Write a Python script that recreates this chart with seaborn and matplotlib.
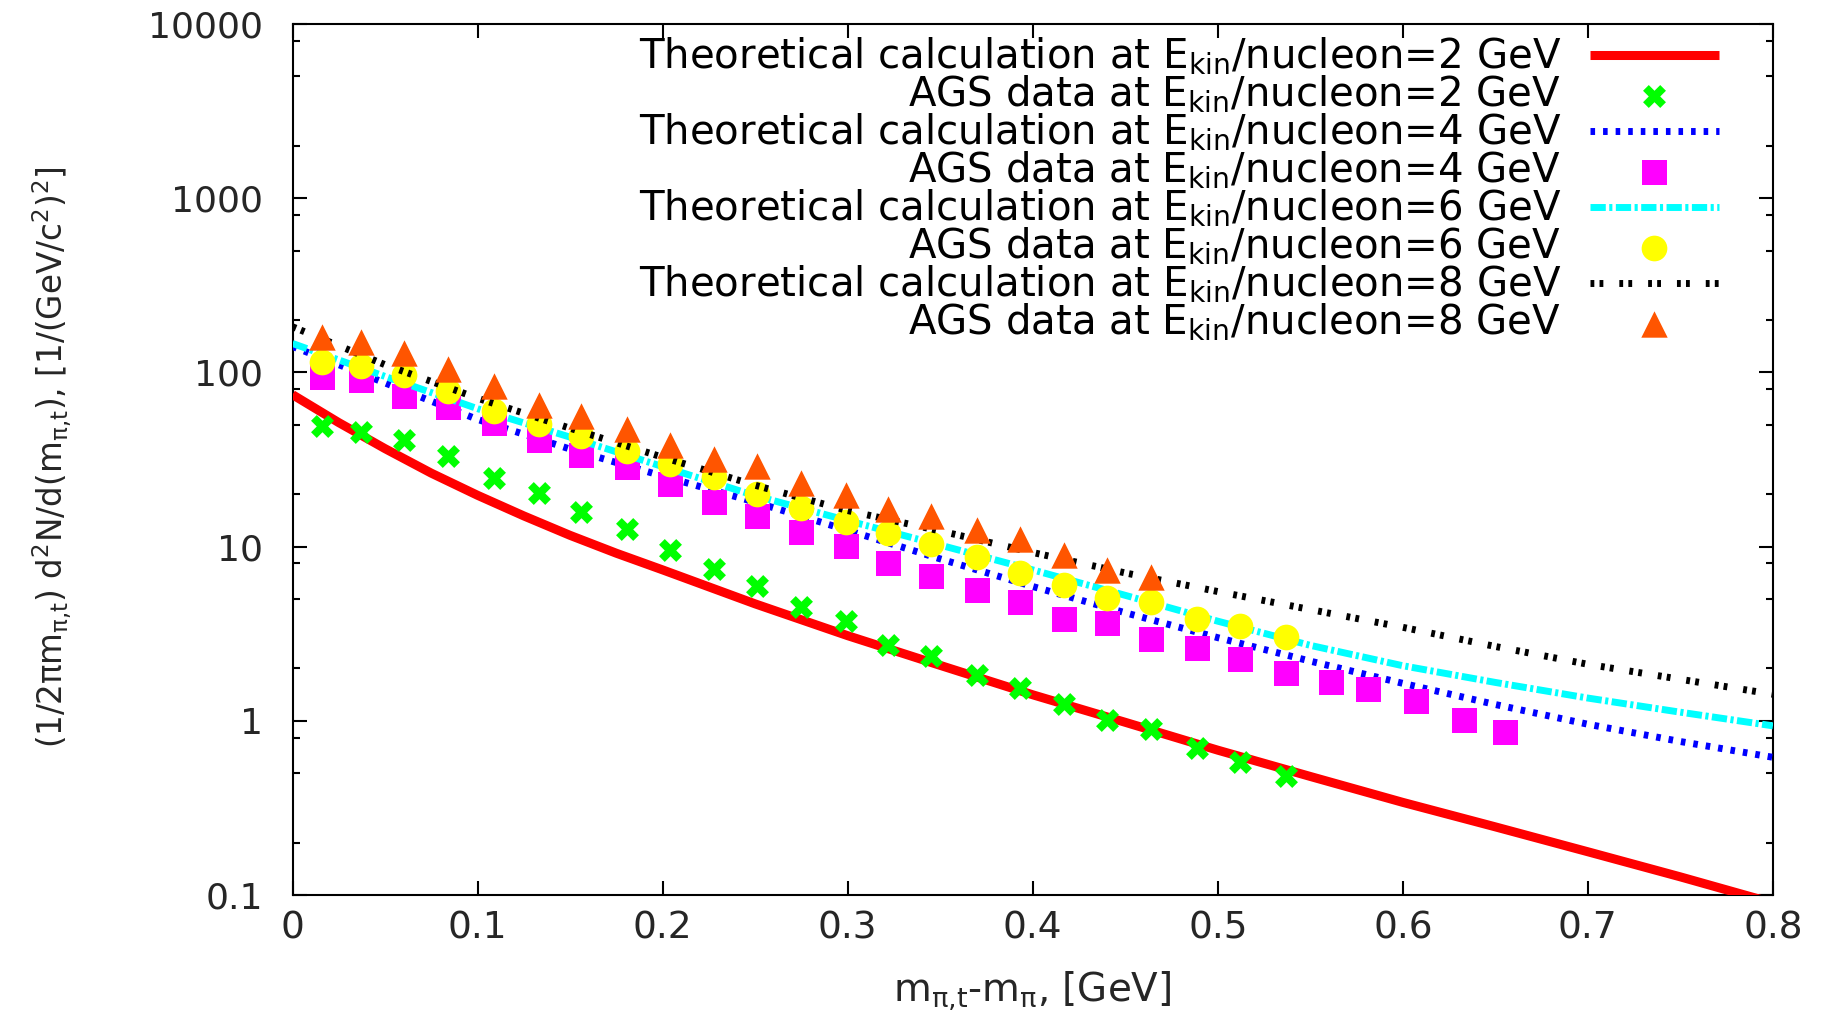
import numpy as np
import pandas as pd
import matplotlib
matplotlib.use("Agg")
import matplotlib.pyplot as plt
import seaborn as sns
from matplotlib.ticker import LogLocator, NullFormatter

# ---------------- data ----------------
x_theory_2 = [0.0, 0.025, 0.05, 0.075, 0.10, 0.125, 0.15, 0.175, 0.20, 0.25,
              0.30, 0.35, 0.40, 0.45, 0.50, 0.55, 0.60, 0.65, 0.70, 0.75, 0.80]
theory_2gev = [74.5, 51.5, 36.5, 26.4, 19.7, 15.0, 11.6, 9.16, 7.35, 4.69,
               3.08, 2.08, 1.41, 0.98, 0.678, 0.479, 0.34, 0.246, 0.177, 0.127, 0.090]

x_theory = [0.0, 0.05, 0.10, 0.15, 0.20, 0.25, 0.30, 0.35, 0.40,
            0.45, 0.50, 0.55, 0.60, 0.65, 0.70, 0.75, 0.80]
theory_4gev = [141, 87, 53.7, 36.3, 25.4, 18.0, 12.4, 8.5, 5.9,
               4.17, 3.0, 2.2, 1.64, 1.24, 0.955, 0.76, 0.617]
theory_6gev = [146.6, 94.8, 61.9, 42.5, 28.8, 19.6, 14.1, 10.2, 7.35,
               5.25, 3.73, 2.71, 2.07, 1.66, 1.35, 1.12, 0.935]
theory_8gev = [182.8, 110.7, 71.1, 47.8, 32.6, 22.5, 16.1, 12.3, 9.25,
               7.06, 5.52, 4.35, 3.44, 2.67, 2.11, 1.73, 1.42]

x_data = [0.016, 0.037, 0.060, 0.084, 0.109, 0.133, 0.156, 0.181, 0.204,
          0.228, 0.251, 0.275, 0.299, 0.322, 0.345, 0.370, 0.393, 0.417,
          0.440, 0.464, 0.489, 0.512, 0.537, 0.561, 0.581, 0.607, 0.633, 0.655]
ags_2gev = [49.4, 45.2, 41.0, 33.2, 24.9, 20.2, 15.7, 12.6, 9.55, 7.43, 5.96,
            4.51, 3.72, 2.73, 2.34, 1.83, 1.55, 1.25, 1.01, 0.90, 0.70, 0.58, 0.48]
ags_4gev = [93.5, 90.3, 73.4, 63.5, 50.9, 40.8, 33.7, 28.5, 22.8, 18.1, 15.0,
            12.1, 10.1, 8.1, 6.8, 5.6, 4.8, 3.84, 3.62, 2.94, 2.63, 2.26, 1.89,
            1.66, 1.52, 1.30, 1.01, 0.86]
ags_6gev = [115, 109, 96, 78, 60, 50.5, 43.3, 35.5, 29.8, 25.0, 20.0, 16.7,
            13.9, 11.9, 10.4, 8.72, 7.01, 6.01, 5.1, 4.78, 3.85, 3.5, 3.03]
ags_8gev = [160, 150, 130, 104, 83, 65, 56, 47.6, 38.3, 32.0, 28.9, 23.3,
            19.9, 16.5, 15.0, 12.4, 11.0, 8.9, 7.3, 6.7]

labels = [
    r"Theoretical calculation at E$_{kin}$/nucleon=2 GeV",
    r"AGS data at E$_{kin}$/nucleon=2 GeV",
    r"Theoretical calculation at E$_{kin}$/nucleon=4 GeV",
    r"AGS data at E$_{kin}$/nucleon=4 GeV",
    r"Theoretical calculation at E$_{kin}$/nucleon=6 GeV",
    r"AGS data at E$_{kin}$/nucleon=6 GeV",
    r"Theoretical calculation at E$_{kin}$/nucleon=8 GeV",
    r"AGS data at E$_{kin}$/nucleon=8 GeV",
]
xticks = [0.0, 0.1, 0.2, 0.3, 0.4, 0.5, 0.6, 0.7, 0.8]
xtick_labels = ["0", "0.1", "0.2", "0.3", "0.4", "0.5", "0.6", "0.7", "0.8"]
yticks = [0.1, 1, 10, 100, 1000, 10000]
ytick_labels = ["0.1", "1", "10", "100", "1000", "10000"]

# ---------------- style ----------------
sns.set_theme(style="ticks")
plt.rcParams["font.family"] = ["DejaVu Sans"]
plt.rcParams["mathtext.default"] = "regular"
plt.rcParams["text.color"] = "black"

fig = plt.figure(figsize=(18.27, 10.14), dpi=100)
ax = fig.add_axes([0.1601, 0.1174, 0.8103, 0.8589])

sns.lineplot(x=x_theory_2, y=theory_2gev, ax=ax, color="#ff0000", lw=6.5,
             solid_capstyle="butt", solid_joinstyle="round", label=labels[0], zorder=3)
sns.scatterplot(x=x_data[:len(ags_2gev)], y=ags_2gev, ax=ax, marker="X",
                s=16.5 ** 2, color="#00ff00", linewidth=0, label=labels[1], zorder=4)
sns.lineplot(x=x_theory, y=theory_4gev, ax=ax, color="#0000ff", lw=5,
             linestyle=(0, (0.66, 1.15)), dash_capstyle="butt", label=labels[2], zorder=5)
sns.scatterplot(x=x_data[:len(ags_4gev)], y=ags_4gev, ax=ax, marker="s",
                s=18 ** 2, color="#ff00ff", linewidth=0, label=labels[3], zorder=6)
sns.lineplot(x=x_theory, y=theory_6gev, ax=ax, color="#00ffff", lw=5,
             linestyle=(0, (2.2, 0.5, 0.45, 0.5)), dash_capstyle="butt",
             label=labels[4], zorder=7)
sns.scatterplot(x=x_data[:len(ags_6gev)], y=ags_6gev, ax=ax, marker="o",
                s=18.5 ** 2, color="#ffff00", linewidth=0, label=labels[5], zorder=8)
sns.lineplot(x=x_theory, y=theory_8gev, ax=ax, color="#000000", lw=5,
             linestyle=(0, (0.55, 0.75, 0.55, 2.3)), dash_capstyle="butt",
             label=labels[6], zorder=9)
sns.scatterplot(x=x_data[:len(ags_8gev)], y=ags_8gev, ax=ax, marker="^",
                s=19 ** 2, color="#ff5500", linewidth=0, label=labels[7], zorder=10)

ax.set_yscale("log")
ax.set_xlim(0, 0.8)
ax.set_ylim(0.1, 10000)
ax.set_xticks(xticks, labels=xtick_labels)
ax.set_yticks(yticks, labels=ytick_labels)
ax.yaxis.set_minor_locator(LogLocator(base=10, subs=(2, 5, 8), numticks=30))
ax.yaxis.set_minor_formatter(NullFormatter())
ax.xaxis.set_minor_locator(matplotlib.ticker.NullLocator())
ax.tick_params(which="both", direction="in", top=True, right=True,
               width=1.5, color="black")
ax.tick_params(which="major", length=10)
ax.tick_params(which="minor", length=5)
ax.tick_params(axis="y", labelsize=26, pad=21)
ax.tick_params(axis="x", labelsize=27, pad=11)
for sp in ax.spines.values():
    sp.set_linewidth(1.5)
    sp.set_color("black")

ax.set_xlabel(r"m$_{\pi{,}t}$-m$_{\pi}$, [GeV]", fontsize=28)
ax.xaxis.set_label_coords(0.5, -0.11)
ax.xaxis.label.set_va("center")
ax.set_ylabel(r"(1/2$\pi$m$_{\pi{,}t}$) d$^2$N/d(m$_{\pi{,}t}$), [1/(GeV/c$^2$)$^2$]",
              fontsize=23.5)
ax.yaxis.set_label_coords(-0.1624, 0.503)
ax.yaxis.label.set_va("center")

leg = ax.legend(loc="upper right", bbox_to_anchor=(0.9635, 0.986),
                frameon=False, markerfirst=False, fontsize=29,
                handlelength=3.2, handletextpad=0.72, labelspacing=-0.09,
                borderpad=0, borderaxespad=0, scatterpoints=1)

fig.savefig("out.png", dpi=100)
